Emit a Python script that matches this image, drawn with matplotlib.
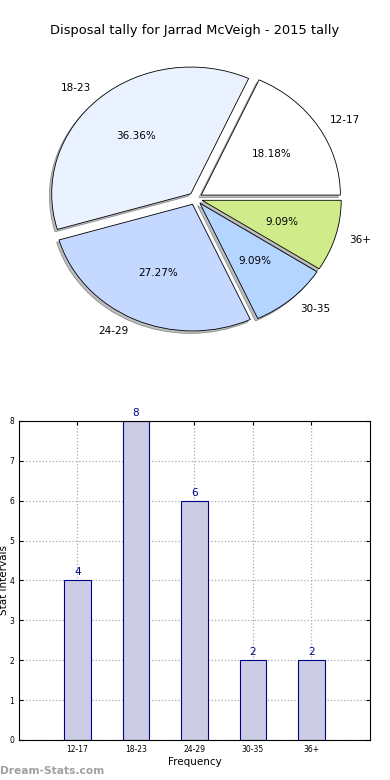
import matplotlib
matplotlib.use("Agg")
import matplotlib.pyplot as plt

categories = ["12-17", "18-23", "24-29", "30-35", "36+"]
counts = [4, 8, 6, 2, 2]
pie_colors = ["#FFFFFF", "#EAF1FF", "#C5D8FF", "#B3D5FF", "#D0EC8A"]
title = "Disposal tally for Jarrad McVeigh - 2015 tally"
yticks = [0, 1, 2, 3, 4, 5, 6, 7, 8]

plt.rcParams['font.family'] = ['DejaVu Sans']
fig = plt.figure(figsize=(3.9, 7.8), dpi=100)
fig.patch.set_facecolor("white")

# Pie
axp = fig.add_axes([0.055, 0.5425, 0.892, 0.406])
wedges, texts, autotexts = axp.pie(
    counts, labels=categories, colors=pie_colors, explode=[0.05] * len(counts),
    autopct="%1.2f%%", shadow=dict(ox=-0.012, oy=-0.014, facecolor="#808080"),
    startangle=0,
    wedgeprops=dict(edgecolor="black", linewidth=0.6),
    textprops=dict(fontsize=7.5))
axp.set_aspect("auto")
axp.set_xlim(-1.25, 1.25)
axp.set_ylim(-1.25, 1.25)
axp.axis("off")
fig.text(0.5, 0.961, title, ha="center", va="center", fontsize=9.4)

# Bars
axb = fig.add_axes([0.0487, 0.0513, 0.9, 0.409])
x = list(range(len(categories)))
axb.bar(x, counts, width=0.45, color="#CCCCE5", edgecolor="#00008B", linewidth=0.8, zorder=2)
for xi, v in zip(x, counts):
    axb.text(xi, v + 0.08, str(v), ha="center", va="bottom", fontsize=7.5, color="#00008B")
axb.set_xlim(-1, 5)
axb.set_ylim(0, 8)
axb.set_xticks(x)
axb.set_xticklabels(categories)
axb.set_yticks(yticks)
axb.tick_params(labelsize=5.5, direction="in", top=True, right=True, length=3)
axb.grid(True, linestyle=":", color="#AAAAAA", linewidth=0.9, zorder=0)
axb.set_axisbelow(True)
axb.set_xlabel("Frequency", fontsize=7.5, labelpad=2)
axb.set_ylabel("Stat Intervals", fontsize=7.5)
axb.yaxis.set_label_coords(-0.0285, 0.5)
for s in axb.spines.values():
    s.set_linewidth(0.8)

fig.text(0.0, 0.0115, "Dream-Stats.com", ha="left", va="center", fontsize=7.7,
         color="#A0A0A0", fontweight="bold")

fig.savefig("out.png", dpi=100)
